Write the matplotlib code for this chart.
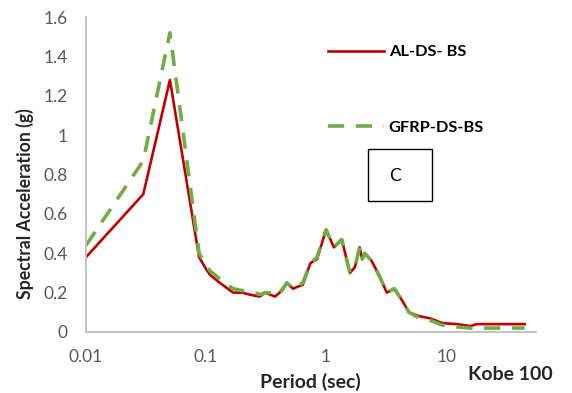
import numpy as np
import matplotlib
matplotlib.use("Agg")
import matplotlib.pyplot as plt
from matplotlib.patches import Rectangle

plt.rcParams['font.family'] = ['Lato', 'DejaVu Sans']

# period (sec) and spectral acceleration (g)
period = [0.01, 0.03, 0.05, 0.0875, 0.1, 0.108, 0.13, 0.168, 0.2, 0.23,
          0.28, 0.31, 0.375, 0.41, 0.47, 0.53, 0.58, 0.64, 0.74, 0.84,
          1.0, 1.16, 1.35, 1.58, 1.74, 1.9, 2.0, 2.1, 2.4, 2.8,
          3.2, 3.7, 4.3, 4.9, 6.0, 7.3, 9.3, 12.4, 15.8, 18, 45]
al_ds_bs = [0.38, 0.70, 1.28, 0.38, 0.32, 0.29, 0.25, 0.20, 0.20, 0.19,
            0.18, 0.20, 0.18, 0.20, 0.25, 0.22, 0.23, 0.24, 0.35, 0.37,
            0.52, 0.43, 0.47, 0.30, 0.33, 0.43, 0.37, 0.40, 0.36, 0.28,
            0.20, 0.22, 0.16, 0.10, 0.08, 0.07, 0.045, 0.04, 0.03, 0.04, 0.04]
gfrp_ds_bs = [0.44, 0.87, 1.52, 0.40, 0.34, 0.31, 0.27, 0.22, 0.21, 0.21,
              0.19, 0.20, 0.20, 0.19, 0.25, 0.22, 0.23, 0.25, 0.35, 0.38,
              0.52, 0.43, 0.47, 0.30, 0.33, 0.43, 0.37, 0.40, 0.36, 0.28,
              0.20, 0.22, 0.16, 0.10, 0.07, 0.06, 0.035, 0.025, 0.02, 0.02, 0.02]

fig = plt.figure(figsize=(5.72, 3.93), dpi=100)
ax = fig.add_axes([86 / 572, 1 - 332 / 393, 450 / 572, 315 / 393])

ax.plot(period, al_ds_bs, color="#C00000", lw=1.9, label="AL-DS- BS")
ax.plot(period, gfrp_ds_bs, color="#70AD47", lw=2.6, linestyle=(0, (4.5, 3.2)),
        label="GFRP-DS-BS")

ax.set_xscale("log")
ax.set_xlim(0.01, 56)
ax.set_ylim(0, 1.6)
ax.set_xticks([0.01, 0.1, 1, 10])
ax.set_xticklabels(["0.01", "0.1", "1", "10"])
ax.set_yticks(np.arange(0, 1.61, 0.2))
ax.set_yticklabels(["0", "0.2", "0.4", "0.6", "0.8", "1", "1.2", "1.4", "1.6"])
ax.minorticks_off()
ax.tick_params(length=0, labelsize=12.5, colors="#595959")
ax.tick_params(axis="x", pad=12)
ax.tick_params(axis="y", pad=13)
for s in ["top", "right"]:
    ax.spines[s].set_visible(False)
for s in ["left", "bottom"]:
    ax.spines[s].set_color("#BFBFBF")
    ax.spines[s].set_linewidth(1.3)

fig.text(25 / 572, 1 - 204 / 393, "Spectral Acceleration (g)", rotation=90,
         ha="center", va="center", fontsize=12.7, fontweight="bold", color="#262626")
fig.text(310 / 572, 1 - 382 / 393, "Period (sec)", ha="center", va="center",
         fontsize=14, fontweight="bold", color="#262626")
fig.text(468 / 572, 1 - 375 / 393, "Kobe 100", ha="left", va="center",
         fontsize=14, fontweight="bold", color="#262626")

fig.legend(loc="upper left", bbox_to_anchor=(328 / 572, 1 - 45 / 393),
           frameon=False, prop={"weight": "bold", "size": 11.8},
           labelspacing=3.7, handlelength=3.4, handletextpad=0.3,
           borderpad=0, borderaxespad=0)

fig.patches.append(Rectangle((368 / 572, 1 - 201 / 393), 64 / 572, 52 / 393,
                             transform=fig.transFigure, fill=False,
                             edgecolor="black", lw=1))
fig.text(395 / 572, 1 - 176 / 393, "C", ha="center", va="center", fontsize=12.5)

fig.savefig("out.png", dpi=100)
